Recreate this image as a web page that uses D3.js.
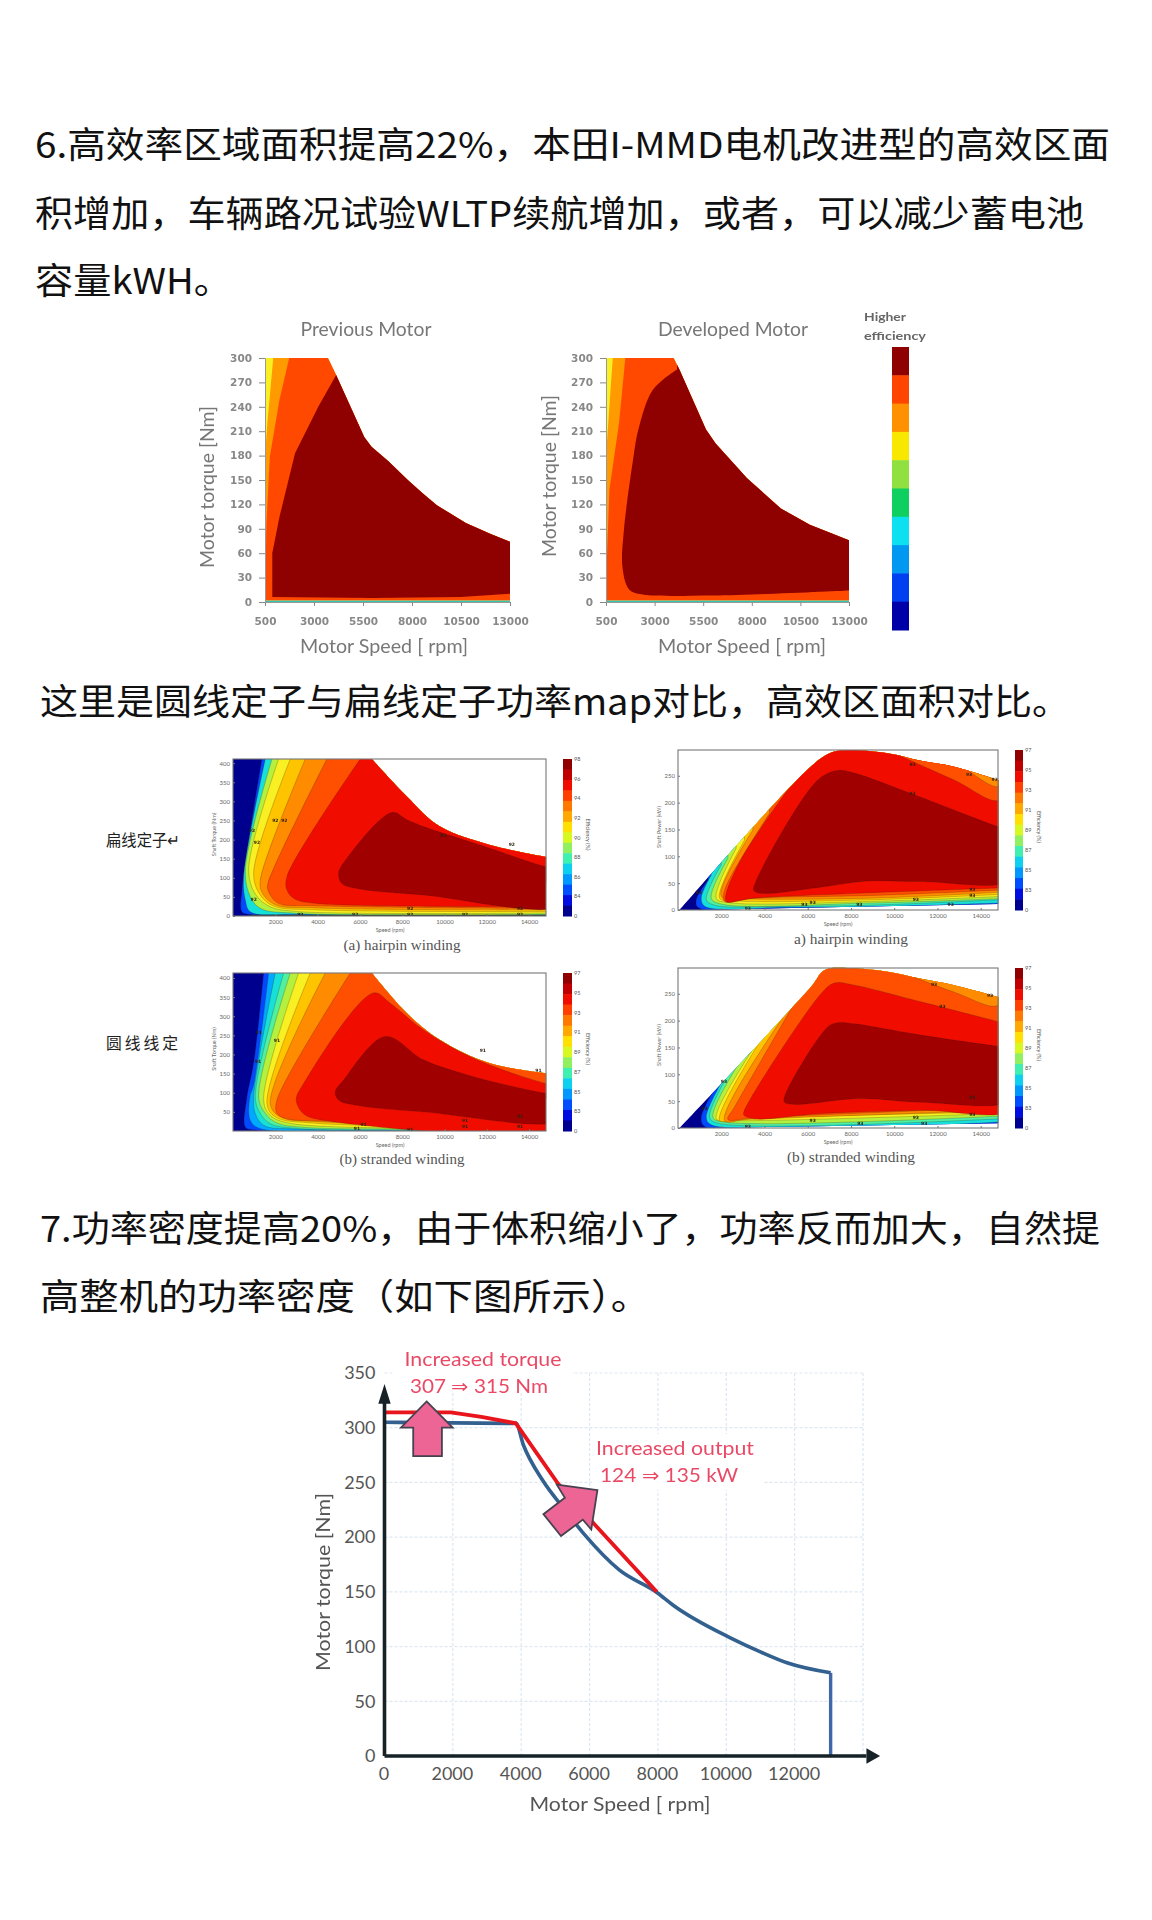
<!DOCTYPE html>
<html><head><meta charset="utf-8">
<style>html,body{margin:0;padding:0;background:#fff}svg{display:block}</style>
<script src="https://cdn.jsdelivr.net/npm/d3@7/dist/d3.min.js"></script>
</head><body><svg id="c" width="1152" height="1920"></svg>
<script>
// ---------- text ----------
const paragraphs=[
 ["6.高效率区域面积提高22%，本田I-MMD电机改进型的高效区面",35,1110,142],
 ["积增加，车辆路况试验WLTP续航增加，或者，可以减少蓄电池",35,1084,211],
 ["容量kWH。",35,232,278],
 ["这里是圆线定子与扁线定子功率map对比，高效区面积对比。",40,1070,699],
 ["7.功率密度提高20%，由于体积缩小了，功率反而加大，自然提",40,1100,1226],
 ["高整机的功率密度（如下图所示）。",40,650,1294]];
// ---------- colours ----------
const jet={navy:"#00008f",blue:"#0048ff",sky:"#00a8ff",cyan:"#18e0d8",mint:"#50f0a0",lime:"#b4f03c",yellow:"#f8f020",amber:"#ffc400",orange:"#ff8c00",orangeRed:"#ff5000",red:"#f01000",dark:"#a00000"};
const barColors=["#900000","#c00000","#f00c00","#ff4000","#ff7800","#ffa800","#ffe000","#d8f820","#90f060","#40f0b0","#10d0f0","#0098ff","#0050ff","#0010e0","#000090"];
const topBarColors=["#8f0000","#ff4500","#ff9000","#f8e800","#90e040","#10d060","#10e0f0","#0098f0","#0040f0","#0000a8"];
// ---------- top maps: speed [rpm], torque [Nm] ----------
const topSpeedTicks=[500,3000,5500,8000,10500,13000];
const topTorqueTicks=[0,30,60,90,120,150,180,210,240,270,300];
const prevEnvelope=[[500,300],[3711,300],[4130,279],[5564,203],[5935,191],[6799,173],[7787,150],[8528,134],[9269,119],[10750,97],[11986,84],[13000,74],[13000,0],[500,0]];
const prevOrange=[[920,300],[623,220],[500,179],[500,0]];
const prevOrangeRed=[[1735,300],[1241,249],[747,179],[574,97],[500,0]];
const prevDark=[[4130,279],[3217,240],[2032,183],[1241,105],[870,60],[870,6],[6000,5],[10500,6],[13000,10]];
const devEnvelope=[[500,300],[3979,300],[4277,286],[5644,212],[6141,195],[7756,152],[9496,115],[10987,95],[13000,76],[13000,0],[500,0]];
const devOrange=[[848,300],[674,240],[500,179],[500,0]];
const devOrangeRed=[[1494,300],[1171,220],[674,138],[500,22],[500,0]];
const devDark=[[4153,286],[2910,261],[2165,212],[1916,179],[1419,88],[1345,43],[1668,16],[2165,10],[6017,8],[13000,14]];
// ---------- torque-speed maps ----------
const midSpeedTicks=[2000,4000,6000,8000,10000,12000,14000];
const midTorqueTicks=[0,50,100,150,200,250,300,350,400];
const midPowerTicks=[0,50,100,150,200,250];
const torqueAEnvelope=[[6567,411],[8220,313],[9795,234],[12157,186],[14803,155]];
const torqueABands=[
 [[1370,411],[425,68],[425,11],[800,4],[14803,1]],
 [[1528,411],[504,103],[583,42],[819,11],[3000,4],[14803,2]],
 [[1843,411],[583,121],[819,51],[1291,20],[3000,7],[14803,4]],
 [[2157,411],[740,121],[1087,55],[1764,24],[3000,12],[14803,8]],
 [[2709,411],[976,112],[1291,55],[1921,26],[3969,16],[14803,12]],
 [[3417,411],[1291,94],[1370,62],[1980,30],[3969,21],[14803,16]],
 [[4441,411],[1650,85],[1650,68],[2126,34],[3870,27],[14803,20]],
 [[6016,411],[2551,103],[2551,68],[2900,45],[3969,33],[14803,25]]];
const torqueADark=[[7512,271],[8220,252],[9008,234],[12157,177],[14803,129],[15600,123],[15600,30],[9008,55],[5858,72],[5150,85],[4992,112],[5386,151]];
const torqueANotes=[[898,225],[1134,192],[976,42],[2000,250],[2425,250],[9953,212],[13181,186],[8378,20],[8378,4],[3181,3],[5780,3],[10976,3],[13575,20],[13575,4]];
const torqueBEnvelope=[[6567,413],[8220,308],[9795,238],[12157,177],[14803,151]];
const torqueBBands=[
 [[1449,413],[976,177],[661,89],[583,10],[976,3],[14803,0]],
 [[1685,413],[976,120],[800,89],[800,30],[1200,8],[14803,1]],
 [[2000,413],[976,89],[1055,46],[1449,15],[3000,5],[14803,2]],
 [[2394,413],[1055,89],[1291,46],[1764,19],[3000,7],[14803,5]],
 [[2709,413],[1213,89],[1528,46],[2079,21],[3500,9],[14803,7]],
 [[3102,413],[1449,81],[1764,41],[2709,20],[14803,9]],
 [[3654,413],[1606,72],[2000,37],[3969,20],[14803,11]],
 [[4362,413],[1764,72],[2236,37],[4126,24],[14803,13]],
 [[5543,413],[2079,81],[2079,46],[2551,32],[4283,26],[14803,16]]];
const torqueBRed=[[6646,361],[7433,334],[9008,264],[11370,190],[14803,124],[15600,116],[15600,19],[4283,28],[3339,45],[2992,81],[3339,124]];
const torqueBDark=[[7197,247],[9008,186],[11370,142],[14803,98],[15600,92],[15600,30],[9008,50],[5858,67],[4992,81],[4835,102],[5228,133]];
const torqueBNotes=[[1213,257],[2079,236],[1181,182],[11811,210],[14441,158],[6173,18],[5858,6],[10976,28],[10976,12],[13575,37],[13575,12],[8378,4]];
// ---------- power-speed maps ----------
const powerAEnvelope=[[77,0],[6308,273],[7231,295],[8000,298],[9692,292],[11231,278],[12769,267],[14815,242]];
const powerALower=[[14815,11],[5780,4],[1100,0]];
const powerABands=[
 [[1385,56],[846,19],[923,5],[5077,3],[14815,10]],
 [[1538,65],[1077,22],[1231,7],[5077,5],[8880,6],[14815,13]],
 [[2000,84],[1308,19],[1692,9],[5077,7],[8880,9],[14815,19]],
 [[2308,96],[1538,22],[2000,11],[8880,13],[14815,21]],
 [[2692,115],[1769,22],[2308,14],[8880,16],[14815,25]],
 [[3077,130],[1923,22],[2615,17],[8880,19],[14815,29]],
 [[3462,149],[2000,25],[3077,21],[8880,22],[14815,33]],
 [[4231,180],[2154,37],[2154,16],[3538,22],[8880,27],[14815,37]],
 [[5077,224],[3000,100],[2231,31],[2231,16],[3462,22],[8880,32],[14815,41]]];
const powerAOrangeRed=[[10154,289],[12769,242],[14815,205],[14815,300],[10154,304]];
const powerAOrange=[[12769,280],[14815,230],[14815,300],[12769,304]];
const powerADark=[[7385,260],[8154,255],[10769,217],[14815,155],[15600,145],[15600,58],[11231,53],[8742,54],[6500,42],[3846,31],[3508,36],[3538,47],[6462,242]];
const powerANotes=[[954,32],[10846,271],[13462,252],[14646,243],[10846,217],[13615,39],[13615,27],[11000,20],[12615,11],[8385,11],[5846,11],[6231,14],[3231,3]];
const powerBEnvelope=[[77,0],[6154,263],[6769,294],[7846,298],[9692,291],[11231,278],[12769,266],[14815,244]];
const powerBLower=[[14815,9],[5780,3],[1100,0]];
const powerBBands=[
 [[1846,83],[1077,20],[1231,3],[14815,8]],
 [[2154,95],[1308,20],[1538,6],[14815,11]],
 [[2615,120],[1462,20],[1846,9],[14815,17]],
 [[3154,142],[1615,20],[2154,11],[14815,22]],
 [[3846,170],[1769,17],[2462,14],[14815,27]],
 [[4308,194],[1923,14],[2769,17],[14815,30]],
 [[4923,210],[2154,14],[3231,16],[14815,33]],
 [[5462,238],[2615,39],[2308,16],[3538,19],[14815,38]]];
const powerBRed=[[7231,270],[8154,266],[11231,235],[14815,198],[15600,190],[15600,38],[11231,33],[6615,27],[3538,17],[3046,24],[3046,30],[6615,250]];
const powerBOrange=[[10462,288],[12769,253],[14815,229],[14815,306],[10462,306]];
const powerBDark=[[7385,196],[8154,194],[11231,173],[14815,152],[15600,148],[15600,55],[11231,48],[8462,55],[5385,44],[4923,48],[4923,58],[6923,188]];
const powerBNotes=[[1231,36],[2123,86],[11846,268],[12231,227],[14431,247],[13615,56],[13615,25],[11000,20],[11385,8],[8431,9],[6231,14],[3231,2]];
const torqueALabels=["98","96","94","92","90","88","86","84","0"];
const stockLabels=["97","95","93","91","89","87","85","83","0"];
// ---------- torque envelope chart ----------
const envSpeedTicks=[0,2000,4000,6000,8000,10000,12000];
const envTorqueTicks=[0,50,100,150,200,250,300,350];
const gridSpeed=[2000,4000,6000,8000,10000,12000,14000];
const gridTorque=[50,100,150,200,250,300,350];
const developedCurve=[[0,305],[3600,304],[3843,304],[4067,284],[4627,252],[5250,226],[5860,202],[6868,170],[7989,149],[8437,138],[10118,108],[11014,95],[11798,85],[13053,76]];
const developedDrop=[[13053,76],[13053,0]];
const improvedCurve=[[0,314],[1938,314],[2835,310],[3843,304],[5076,249],[6196,210],[7966,150]];
const arrowUp=[[1232,324],[1994,300],[1680,300],[1680,274],[840,274],[840,300],[482,300]];
const arrowDiag=[[6230,243],[5042,248],[5277,236],[4650,221],[5165,201],[5804,216],[6050,207]];
// scan residue under the second image pair
const scanMarks=[[187,190],[253,256],[330,334],[390,393],[463,466],[627,637],[670,687],[770,780],[827,840],[920,953],[973,1007]];

// ---------- drawing ----------
const svg=d3.select("#c");
const defs=svg.append("defs");
function softFilter(id,s){const f=defs.append("filter").attr("id",id).attr("x","-5%").attr("y","-5%").attr("width","110%").attr("height","110%");f.append("feGaussianBlur").attr("stdDeviation",s);}
softFilter("soft",0.7);softFilter("softText",0.45);
svg.append("rect").attr("width",1152).attr("height",1920).attr("fill","#fff");
const CJK="'Noto Sans CJK SC','Noto Sans',sans-serif", LAT="Lato,'Open Sans',sans-serif", SER="'Liberation Serif',serif", DJ="'DejaVu Sans',sans-serif";
function label(g,t,x,y,o={}){
 const e=g.append("text").text(t).attr("x",x).attr("y",y).attr("dominant-baseline","central")
  .attr("font-family",o.font||LAT).attr("font-size",o.size||12).attr("fill",o.fill||"#666")
  .attr("text-anchor",o.anchor||"middle");
 if(o.weight)e.attr("font-weight",o.weight);
 if(o.len)e.attr("textLength",o.len).attr("lengthAdjust","spacingAndGlyphs");
 if(o.rot)e.attr("transform",`rotate(${o.rot} ${x} ${y})`);
 return e;
}
paragraphs.forEach(([t,x0,x1,y])=>label(svg,t,x0,y,{font:CJK,size:36,fill:"#111",anchor:"start",len:x1-x0}));

let clipId=0;
function addClip(d){const id="k"+(clipId++);defs.append("clipPath").attr("id",id).append("path").attr("d",d);return `url(#${id})`;}
function curved(x,y,curve){return d3.line().x(d=>x(d[0])).y(d=>y(d[1])).curve(curve);}
const smooth=d3.curveCatmullRom.alpha(0.5);
function regionPath(line,x,y,pts,xMax,yMax){
 const last=pts[pts.length-1],first=pts[0];
 return line(pts)+`L${x(xMax)},${y(last[1])}L${x(xMax)},${y(yMax)}L${x(first[0])},${y(yMax)}Z`;
}

// ---- top maps
function topMap(o){
 const x=d3.scaleLinear().domain([500,13000]).range(o.xr), y=d3.scaleLinear().domain([0,300]).range(o.yr);
 const g=svg.append("g");
 const line=curved(x,y,d3.curveLinear), cl=curved(x,y,o.darkCurve);
 const clip=addClip(line(o.env)+"Z");
 const m=g.append("g").attr("filter","url(#soft)").append("g").attr("clip-path",clip);
 m.append("path").attr("d",line(o.env)+"Z").attr("fill",jet.yellow);
 m.append("path").attr("d",regionPath(line,x,y,o.orange,14000,320)).attr("fill","#ff9a00");
 m.append("path").attr("d",regionPath(line,x,y,o.orangeRed,14000,320)).attr("fill","#ff4a00");
 m.append("path").attr("d",regionPath(cl,x,y,o.dark,14000,320)).attr("fill","#8f0000");
 [[2,"#8fe0a0"],[1,"#20c0b0"]].forEach(([v,c])=>m.append("rect").attr("x",x(500)).attr("width",x(13000)-x(500)).attr("y",y(v)).attr("height",y(0)-y(v)).attr("fill",c));
 const axes=g.append("g").attr("filter","url(#softText)");
 const ax=axes.append("g").attr("transform",`translate(0,${o.yr[0]})`).call(d3.axisBottom(x).tickValues(topSpeedTicks).tickSize(4).tickPadding(12).tickFormat(d3.format("d")));
 const ay=axes.append("g").attr("transform",`translate(${o.xr[0]},0)`).call(d3.axisLeft(y).tickValues(topTorqueTicks).tickSize(6).tickPadding(7));
 [ax,ay].forEach(a=>{a.selectAll("text").attr("font-family",DJ).attr("font-size",10.5).attr("font-weight","bold").attr("fill","#888");a.selectAll("line").attr("stroke","#888");a.select(".domain").attr("stroke","#999").attr("stroke-width",1);});
 const tg=g.append("g").attr("filter","url(#softText)");
 label(tg,o.title,o.tx,o.ty,{size:19,fill:"#777",len:o.tlen});
 label(tg,"Motor Speed [ rpm]",o.sx,645,{size:20,fill:"#777",len:168});
 label(tg,"Motor torque [Nm]",o.ax,o.ay,{size:20,fill:"#777",len:162,rot:-90});
}
topMap({xr:[265,510],yr:[602,358],env:prevEnvelope,orange:prevOrange,orangeRed:prevOrangeRed,dark:prevDark,darkCurve:d3.curveLinear,title:"Previous Motor",tx:366,ty:328,tlen:131,sx:384,ax:206,ay:487});
topMap({xr:[606,849],yr:[602,358],env:devEnvelope,orange:devOrange,orangeRed:devOrangeRed,dark:devDark,darkCurve:smooth,title:"Developed Motor",tx:733,ty:328,tlen:150,sx:742,ax:548,ay:476});
const topBarY=d3.scaleBand().domain(d3.range(topBarColors.length)).range([347,630]);
const topBar=svg.append("g").attr("filter","url(#soft)");
topBar.selectAll("rect").data(topBarColors).join("rect").attr("x",892).attr("width",17).attr("y",(d,i)=>topBarY(i)).attr("height",topBarY.bandwidth()+0.5).attr("fill",d=>d);
const hl=svg.append("g").attr("filter","url(#softText)");
label(hl,"Higher",864,316,{size:12,fill:"#666",anchor:"start",weight:"bold",len:42});
label(hl,"efficiency",864,335,{size:12,fill:"#666",anchor:"start",weight:"bold",len:62});

// ---- contour maps
function contourMap(o){
 const x=d3.scaleLinear().domain([0,14800]).range(o.xr), y=d3.scaleLinear().domain([0,o.ymax]).range(o.yr);
 const g=svg.append("g"), cl=curved(x,y,smooth);
 const W=o.xr[1]-o.xr[0], H=o.yr[0]-o.yr[1];
 let envD;
 if(o.lower){envD=cl(o.env)+o.lower.map(p=>`L${x(p[0])},${y(p[1])}`).join("")+"Z";}
 else{envD=`M${x(0)},${y(0)}L${x(0)},${y(o.ymax)}L${x(o.env[0][0])},${y(o.ymax)}`+cl(o.env).replace("M","L")+`L${x(14800)},${y(0)}Z`;}
 const clip=addClip(envD);
 const soft=g.append("g").attr("filter","url(#soft)");
 const m=soft.append("g").attr("clip-path",clip);
 m.append("rect").attr("x",o.xr[0]).attr("y",o.yr[1]).attr("width",W).attr("height",H).attr("fill",jet.navy);
 const edge="rgba(60,20,0,.45)";
 const reg=(pts,c)=>m.append("path").attr("d",regionPath(cl,x,y,pts,15500,o.ymax*1.2)).attr("fill",c).attr("stroke",edge).attr("stroke-width",0.5);
 const closed=(pts,c)=>m.append("path").attr("d",d3.line().x(d=>x(d[0])).y(d=>y(d[1])).curve(d3.curveCatmullRomClosed.alpha(0.5))(pts)).attr("fill",c).attr("stroke",edge).attr("stroke-width",0.5);
 o.bands.forEach((b,i)=>reg(b,o.bandColors[i]));
 if(o.red)closed(o.red,jet.red);
 (o.patches||[]).forEach(([p,c])=>m.append("path").attr("d",cl(p)+"Z").attr("fill",c).attr("stroke",edge).attr("stroke-width",0.5));
 closed(o.dark,jet.dark);
 if(o.baseline)m.append("rect").attr("x",x(800)).attr("width",x(14800)-x(800)).attr("y",o.yr[0]-1.2).attr("height",1.2).attr("fill",o.baseline);
 o.notes.forEach(([s,v])=>soft.append("text").text(o.noteText).attr("x",x(s)).attr("y",y(v)).attr("text-anchor","middle").attr("dominant-baseline","central").attr("font-family",DJ).attr("font-size",4.5).attr("font-weight","bold").attr("fill","#302010"));
 g.append("rect").attr("x",o.xr[0]).attr("y",o.yr[1]).attr("width",W).attr("height",H).attr("fill","none").attr("stroke","#777").attr("stroke-width",1.1);
 const ax=g.append("g").attr("transform",`translate(0,${o.yr[0]})`).call(d3.axisBottom(x).tickValues(midSpeedTicks).tickSize(-2).tickPadding(4).tickFormat(d3.format("d")));
 const ay=g.append("g").attr("transform",`translate(${o.xr[0]},0)`).call(d3.axisLeft(y).tickValues(o.yticks).tickSize(-2).tickPadding(3));
 [ax,ay].forEach(a=>{a.select(".domain").remove();a.selectAll("line").attr("stroke","#777");a.selectAll("text").attr("font-family",LAT).attr("font-size",6).attr("fill","#666");});
 label(g,"Speed (rpm)",o.sx,o.yr[0]+14,{size:5.5,fill:"#666"});
 label(g,o.ylabel,o.xr[0]-19,(o.yr[0]+o.yr[1])/2-3,{size:5.5,fill:"#666",rot:-90});
 const bar=d3.scaleBand().domain(d3.range(barColors.length)).range([o.yr[1],o.yr[0]]);
 const bg=g.append("g").attr("filter","url(#soft)");
 bg.selectAll("rect").data(barColors).join("rect").attr("x",o.barX).attr("width",o.barW).attr("y",(d,i)=>bar(i)).attr("height",bar.bandwidth()+0.5).attr("fill",d=>d);
 const bl=d3.scalePoint().domain(o.barLabels).range([o.yr[1],o.yr[0]]);
 o.barLabels.forEach(t=>label(g,t,o.barX+o.barW+2,bl(t),{size:5.5,fill:"#555",anchor:"start"}));
 label(g,"Efficiency (%)",o.barX+o.barW+16,(o.yr[0]+o.yr[1])/2-3,{size:5.5,fill:"#555",rot:90});
 label(g,o.caption,o.cx,o.cy,{font:SER,size:14.5,fill:"#555",len:o.clen});
}
const tXr=[233,546], pXr=[678,998];
contourMap({xr:tXr,yr:[916,759],ymax:411,env:torqueAEnvelope,bands:torqueABands,bandColors:[jet.blue,jet.cyan,jet.lime,jet.yellow,jet.amber,jet.orange,jet.orangeRed,jet.red],dark:torqueADark,baseline:"#1a2a20",notes:torqueANotes,noteText:"92",yticks:midTorqueTicks,ylabel:"Shaft Torque (Nm)",barX:563,barW:9,barLabels:torqueALabels,caption:"(a) hairpin winding",cx:402,cy:945,clen:117,sx:390});
contourMap({xr:tXr,yr:[1131,973],ymax:413,env:torqueBEnvelope,bands:torqueBBands,bandColors:[jet.blue,jet.sky,jet.cyan,jet.mint,jet.lime,jet.yellow,jet.amber,jet.orange,jet.orangeRed],red:torqueBRed,dark:torqueBDark,notes:torqueBNotes,noteText:"91",yticks:midTorqueTicks.slice(1),ylabel:"Shaft Torque (Nm)",barX:563,barW:9,barLabels:stockLabels,caption:"(b) stranded winding",cx:402,cy:1159,clen:125,sx:390});
contourMap({xr:pXr,yr:[910,750],ymax:298,env:powerAEnvelope,lower:powerALower,bands:powerABands,bandColors:[jet.blue,jet.cyan,jet.mint,jet.lime,jet.yellow,jet.amber,jet.orange,jet.orangeRed,jet.red],dark:powerADark,patches:[[powerAOrangeRed,jet.orangeRed],[powerAOrange,jet.orange]],notes:powerANotes,noteText:"93",yticks:midPowerTicks,ylabel:"Shaft Power (kW)",barX:1015,barW:8,barLabels:stockLabels,caption:"a) hairpin winding",cx:851,cy:939,clen:114,sx:838});
contourMap({xr:pXr,yr:[1128,968],ymax:298,env:powerBEnvelope,lower:powerBLower,bands:powerBBands,bandColors:[jet.blue,jet.cyan,jet.mint,jet.lime,jet.yellow,jet.amber,jet.orange,jet.orangeRed],red:powerBRed,dark:powerBDark,patches:[[powerBOrange,jet.orange]],notes:powerBNotes,noteText:"93",yticks:midPowerTicks,ylabel:"Shaft Power (kW)",barX:1015,barW:8,barLabels:stockLabels,caption:"(b) stranded winding",cx:851,cy:1157,clen:128,sx:838});
label(svg,"扁线定子↵",106,839,{font:CJK,size:16,fill:"#222",anchor:"start",len:74});
label(svg,"圆线线定",106,1042,{font:CJK,size:16,fill:"#222",anchor:"start",len:75}).attr("letter-spacing",3);
svg.append("g").attr("filter","url(#softText)").selectAll("line").data(scanMarks).join("line").attr("x1",d=>d[0]).attr("x2",d=>d[1]).attr("y1",1172).attr("y2",1172).attr("stroke","#888").attr("stroke-width",1.4);

// ---- torque envelope chart
{
 const x=d3.scaleLinear().domain([0,14000]).range([384.5,863]), y=d3.scaleLinear().domain([0,350]).range([1756,1373]);
 const g=svg.append("g");
 const grid=g.append("g").attr("filter","url(#soft)");
 gridSpeed.forEach(s=>grid.append("line").attr("x1",x(s)).attr("x2",x(s)).attr("y1",y(0)).attr("y2",y(350)).attr("stroke","#dde7f2").attr("stroke-width",1.2).attr("stroke-dasharray","3 2"));
 gridTorque.forEach(t=>grid.append("line").attr("x1",x(0)).attr("x2",x(14000)).attr("y1",y(t)).attr("y2",y(t)).attr("stroke","#dde7f2").attr("stroke-width",1.2).attr("stroke-dasharray","3 2"));
 g.append("rect").attr("x",394).attr("y",1345).attr("width",178).attr("height",48).attr("fill","#fff");
 g.append("rect").attr("x",592).attr("y",1434).attr("width",172).attr("height",56).attr("fill","#fff");
 const ax=g.append("g").attr("transform",`translate(-1,${y(0)})`).call(d3.axisBottom(x).tickValues(envSpeedTicks).tickSize(0).tickPadding(11).tickFormat(d3.format("d")));
 const ay=g.append("g").attr("transform",`translate(${x(0)},0)`).call(d3.axisLeft(y).tickValues(envTorqueTicks).tickSize(0).tickPadding(9));
 [ax,ay].forEach(a=>{a.select(".domain").remove();a.selectAll("text").attr("font-family",LAT).attr("font-size",18).attr("fill","#555");});
 const marks=g.append("g").attr("filter","url(#soft)");
 const lin=curved(x,y,d3.curveLinear), cur=curved(x,y,d3.curveMonotoneX);
 marks.append("path").attr("d",lin(developedDrop)).attr("fill","none").attr("stroke","#3f68a8").attr("stroke-width",3.4);
 marks.append("path").attr("d",cur(developedCurve)).attr("fill","none").attr("stroke","#33608f").attr("stroke-width",3.6);
 marks.append("path").attr("d",lin(improvedCurve)).attr("fill","none").attr("stroke","#e8141c").attr("stroke-width",3.8);
 marks.append("line").attr("x1",x(0)).attr("x2",x(0)).attr("y1",y(0)).attr("y2",y(325)).attr("stroke","#152028").attr("stroke-width",3.6);
 marks.append("line").attr("x1",x(0)).attr("x2",x(14100)).attr("y1",y(0)).attr("y2",y(0)).attr("stroke","#152028").attr("stroke-width",3.6);
 const yTip=[[0,340],[-180,322],[180,322]], xTip=[[14500,0],[14100,-7],[14100,7]];
 [yTip,xTip].forEach(p=>marks.append("path").attr("d",lin(p)+"Z").attr("fill","#152028"));
 [arrowUp,arrowDiag].forEach(p=>marks.append("path").attr("d",lin(p)+"Z").attr("fill","#ec6595").attr("stroke","#474250").attr("stroke-width",1.8));
 const tg=g.append("g").attr("filter","url(#softText)");
 label(tg,"Increased torque",483,1358,{size:19,fill:"#ea4a66",len:157});
 label(tg,"307 ⇒ 315 Nm",479,1385,{size:19,fill:"#ea4a66",len:138});
 label(tg,"Increased output",675,1447,{size:19,fill:"#ea4a66",len:158});
 label(tg,"124 ⇒ 135 kW",669,1474,{size:19,fill:"#ea4a66",len:138});
 label(tg,"Motor Speed [ rpm]",620,1803,{size:20,fill:"#555",len:181});
 label(tg,"Motor torque [Nm]",322,1582,{size:20,fill:"#555",len:178,rot:-90});
}
</script></body></html>
